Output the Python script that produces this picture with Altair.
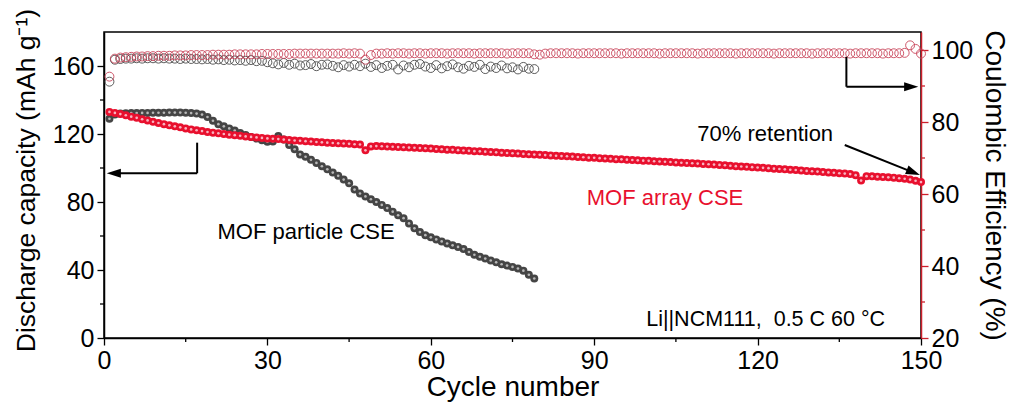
import altair as alt
import pandas as pd

# ---------------- data ----------------
array_capacity = [
    133.0, 132.4, 131.7, 131.0, 130.2, 129.5, 128.7, 128.0, 127.2, 126.5,
    125.8, 125.1, 124.5, 123.9, 123.3, 122.7, 122.2, 121.7, 121.2, 120.8,
    120.4, 120.0, 119.6, 119.3, 119.0, 118.6, 118.3, 118.0, 117.7, 117.4,
    117.2, 117.0, 116.7, 116.5, 116.2, 116.0, 115.8, 115.6, 115.3, 115.1,
    114.9, 114.7, 114.5, 114.4, 114.2, 114.0, 113.8, 110.4, 112.7, 112.9,
    112.8, 112.6, 112.5, 112.3, 112.2, 112.0, 111.9, 111.7, 111.6, 111.4,
    111.2, 111.0, 110.8, 110.7, 110.5, 110.3, 110.1, 109.9, 109.8, 109.6,
    109.4, 109.2, 109.0, 108.8, 108.7, 108.5, 108.3, 108.1, 107.9, 107.8,
    107.6, 107.4, 107.2, 107.0, 106.9, 106.7, 106.5, 106.3, 106.1, 106.0,
    105.8, 105.6, 105.4, 105.2, 105.1, 104.9, 104.7, 104.5, 104.3, 104.2,
    104.0, 103.8, 103.7, 103.5, 103.3, 103.1, 102.9, 102.8, 102.6, 102.4,
    102.2, 102.0, 101.8, 101.6, 101.3, 101.1, 100.9, 100.7, 100.5, 100.3,
    100.1, 99.9, 99.6, 99.4, 99.2, 99.0, 98.8, 98.5, 98.3, 98.1,
    97.9, 97.6, 97.4, 97.2, 96.9, 96.7, 96.4, 95.8, 92.6, 95.2,
    95.1, 94.9, 94.7, 94.5, 94.3, 94.0, 93.7, 93.2, 92.5, 91.7,
]

particle_capacity = [
    129.0, 131.5, 132.0, 132.2, 132.3, 132.3, 132.4, 132.4, 132.5, 132.5,
    132.5, 132.6, 132.6, 132.6, 132.5, 132.3, 132.0, 131.4, 130.0, 127.8,
    125.8, 124.5, 123.3, 122.0, 120.6, 119.4, 118.3, 117.3, 116.3, 115.5,
    115.6, 118.8, 116.8, 113.5, 111.0, 108.0, 106.6, 104.8, 103.0, 101.0,
    99.2, 97.3, 95.4, 93.2, 91.0, 87.3, 85.0, 83.3, 81.6, 80.0,
    78.3, 76.4, 74.3, 72.2, 70.5, 67.4, 64.5, 62.3, 60.5, 59.2,
    58.0, 56.8, 55.6, 54.5, 53.6, 52.3, 50.6, 49.0, 47.8, 46.7,
    45.6, 44.5, 43.4, 42.6, 41.8, 40.9, 39.6, 37.2, 35.0,
]

array_ce = [
    92.6, 97.6, 97.9, 98.0, 98.1, 98.2, 98.2, 98.3, 98.3, 98.4,
    98.4, 98.4, 98.5, 98.5, 98.5, 98.6, 98.6, 98.6, 98.6, 98.7,
    98.7, 98.7, 98.7, 98.8, 98.8, 98.8, 98.8, 98.8, 98.9, 98.9,
    98.9, 98.9, 98.9, 98.9, 99.0, 99.0, 99.0, 99.0, 99.0, 99.0,
    99.0, 99.0, 99.0, 99.1, 99.0, 99.1, 99.0, 97.3, 98.6, 99.0,
    99.0, 99.1, 99.0, 99.1, 99.1, 99.0, 99.1, 99.1, 99.0, 99.1,
    99.1, 99.1, 99.0, 99.1, 99.1, 99.1, 99.1, 99.0, 99.1, 99.1,
    99.1, 99.1, 99.1, 99.0, 99.1, 99.1, 99.1, 99.1, 98.8, 98.7,
    99.0, 99.1, 99.1, 99.1, 99.1, 99.1, 99.0, 99.1, 99.1, 99.1,
    99.1, 99.1, 99.1, 99.1, 99.0, 99.1, 99.1, 99.1, 99.1, 99.1,
    99.1, 99.0, 99.1, 99.1, 99.1, 99.1, 99.1, 99.1, 99.0, 99.1,
    99.1, 99.1, 99.1, 99.1, 99.1, 99.0, 99.1, 99.1, 99.1, 99.1,
    99.1, 99.1, 99.0, 99.1, 99.1, 99.1, 99.1, 99.1, 99.1, 99.0,
    99.1, 99.1, 99.1, 99.1, 99.1, 99.1, 99.0, 99.1, 99.1, 99.1,
    99.1, 99.1, 99.0, 99.1, 99.1, 99.1, 99.2, 101.3, 100.3, 99.0,
]

particle_ce = [
    91.2, 97.3, 97.5, 97.6, 97.6, 97.7, 97.6, 97.7, 97.7, 97.6,
    97.7, 97.6, 97.6, 97.5, 97.6, 97.5, 97.5, 97.4, 97.5, 97.3,
    97.4, 97.2, 97.3, 97.1, 97.2, 97.0, 97.2, 96.9, 97.0, 96.6,
    96.3, 96.0, 96.4, 95.9, 96.2, 95.7, 95.8, 96.1, 95.5, 95.9,
    96.0, 95.6, 95.2, 95.8, 95.4, 95.9, 95.5, 96.2, 95.3, 95.8,
    95.0, 95.6, 95.9, 94.6, 95.7, 95.2, 95.9, 96.1, 95.4, 95.0,
    95.8, 94.9, 95.5, 96.0, 95.2, 94.8, 95.6, 95.3, 95.9, 94.7,
    95.4, 95.0, 95.7, 94.9, 95.2, 94.6, 95.3, 94.8, 94.7,
]

x_major = [0, 30, 60, 90, 120, 150]
x_minor = [15, 45, 75, 105, 135]
cap_major = [0, 40, 80, 120, 160]
cap_minor = [20, 60, 100, 140]
ce_major = [20, 40, 60, 80, 100]
ce_minor = [30, 50, 70, 90]

# annotation texts (data coordinates: cycle, capacity)
label_text = ["MOF particle CSE", "MOF array CSE", "70% retention"]
label_x = [37.1, 103.0, 121.4]
label_y = [62.5, 82.3, 120.0]
label_color = ["#000000", "#e8102e", "#000000"]

cond_text = ["Li||NCM111,\u00a0\u00a00.5 C 60 °C"]
cond_x = [143.4]
cond_y = [10.5]

# arrow segments (cycle, capacity units)
seg_x = [17.1, 17.1, 136.3, 136.3, 136.0]
seg_x2 = [17.1, 2.5, 136.3, 147.5, 148.1]
seg_y = [114.9, 96.9, 165.4, 147.8, 113.5]
seg_y2 = [96.9, 96.9, 147.8, 147.8, 98.0]
head_x = [0.5, 149.5, 149.8]
head_y = [96.9, 147.8, 95.9]
head_angle = [180, 0, 22]

FONT = "Liberation Sans"
RED = "#e8102e"
AXRED = "#cc1f2a"
GREY = "#454545"
W, H = 817, 306

part_cap = pd.DataFrame({"cycle": range(1, len(particle_capacity) + 1), "cap": particle_capacity})
arr_cap = pd.DataFrame({"cycle": range(1, len(array_capacity) + 1), "cap": array_capacity})
part_ce = pd.DataFrame({"cycle": range(1, len(particle_ce) + 1), "ce": particle_ce})
arr_ce = pd.DataFrame({"cycle": range(1, len(array_ce) + 1), "ce": array_ce})

xscale = alt.Scale(domain=[0, 150], nice=False, zero=False)
capscale = alt.Scale(domain=[0, 180], nice=False, zero=False)
cescale = alt.Scale(domain=[20, 105], nice=False, zero=False)

common = dict(labelFontSize=25, labelFont=FONT, titleFont=FONT,
              titleFontWeight="normal", labelColor="black", titleColor="black",
              domainWidth=1.5, tickWidth=1.3, tickSize=7, grid=False,
              labelPadding=3, labelFlush=False)

x_axis = alt.Axis(values=x_major, title="Cycle number", domainColor="black",
                  tickColor="black", titlePadding=0, titleFontSize=28,
                  orient="bottom", **common)
cap_axis = alt.Axis(values=cap_major, title="Discharge capacity (mAh g⁻¹)", orient="left",
                    domainColor="black", tickColor="black", titlePadding=12,
                    titleFontSize=26.5, titleY=148, **common)
ce_axis = alt.Axis(values=ce_major, title="Coulombic Efficiency (%)", orient="right",
                   domainColor=AXRED, tickColor=AXRED, titlePadding=7,
                   titleFontSize=28, **common)

X = alt.X("cycle:Q", scale=xscale, axis=x_axis)
Xn = alt.X("cycle:Q", scale=xscale, axis=None)

part_outer = alt.Chart(part_cap).mark_circle(size=64, color=GREY, opacity=1).encode(
    x=X, y=alt.Y("cap:Q", scale=capscale, axis=cap_axis))
part_inner = alt.Chart(part_cap).mark_circle(size=7, color="#b8b8b8", opacity=1).encode(
    x=Xn, y=alt.Y("cap:Q", scale=capscale, axis=None))
arr_outer = alt.Chart(arr_cap).mark_circle(size=64, color=RED, opacity=1).encode(
    x=Xn, y=alt.Y("cap:Q", scale=capscale, axis=None))
arr_inner = alt.Chart(arr_cap).mark_circle(size=7, color="#f7b3c0", opacity=1).encode(
    x=Xn, y=alt.Y("cap:Q", scale=capscale, axis=None))

lab_df = pd.DataFrame({"t": label_text, "x": label_x, "y": label_y, "c": label_color})
labels = alt.Chart(lab_df).mark_text(font=FONT, fontSize=22, align="center",
                                     baseline="middle").encode(
    x=alt.X("x:Q", scale=xscale, axis=None),
    y=alt.Y("y:Q", scale=capscale, axis=None),
    text="t:N", color=alt.Color("c:N", scale=None))

cond_df = pd.DataFrame({"t": cond_text, "x": cond_x, "y": cond_y})
cond = alt.Chart(cond_df).mark_text(font=FONT, fontSize=21.5, align="right",
                                    baseline="middle", color="black").encode(
    x=alt.X("x:Q", scale=xscale, axis=None),
    y=alt.Y("y:Q", scale=capscale, axis=None),
    text="t:N")

seg_df = pd.DataFrame({"x": seg_x, "x2": seg_x2, "y": seg_y, "y2": seg_y2})
segs = alt.Chart(seg_df).mark_rule(color="black", strokeWidth=2).encode(
    x=alt.X("x:Q", scale=xscale, axis=None), x2="x2:Q",
    y=alt.Y("y:Q", scale=capscale, axis=None), y2="y2:Q")

head_df = pd.DataFrame({"x": head_x, "y": head_y, "a": head_angle})
heads = alt.Chart(head_df).mark_point(
    shape="M0,0L-2,-0.65L-2,0.65Z", filled=True, size=200, color="black",
    opacity=1, strokeWidth=0).encode(
    x=alt.X("x:Q", scale=xscale, axis=None),
    y=alt.Y("y:Q", scale=capscale, axis=None),
    angle=alt.Angle("a:Q", scale=None))

# minor ticks (positions through the scales, lengths in pixels outside the plot)
xmin_df = pd.DataFrame({"v": x_minor})
xminor = alt.Chart(xmin_df).mark_rule(color="black", strokeWidth=1.3).encode(
    x=alt.X("v:Q", scale=xscale, axis=None), y=alt.value(H), y2=alt.value(H + 4))
capmin_df = pd.DataFrame({"v": cap_minor})
capminor = alt.Chart(capmin_df).mark_rule(color="black", strokeWidth=1.3).encode(
    y=alt.Y("v:Q", scale=capscale, axis=None), x=alt.value(-4), x2=alt.value(0))

part_ce_m = alt.Chart(part_ce).mark_point(shape="circle", filled=False, size=80,
                                          color="#4a4a4a", strokeWidth=0.9, opacity=1).encode(
    x=Xn, y=alt.Y("ce:Q", scale=cescale, axis=ce_axis))
arr_ce_m = alt.Chart(arr_ce).mark_point(shape="circle", filled=False, size=80,
                                        color="#c8455a", strokeWidth=0.9, opacity=1).encode(
    x=Xn, y=alt.Y("ce:Q", scale=cescale, axis=None))
cemin_df = pd.DataFrame({"v": ce_minor})
ceminor = alt.Chart(cemin_df).mark_rule(color=AXRED, strokeWidth=1.3).encode(
    y=alt.Y("v:Q", scale=cescale, axis=None), x=alt.value(W), x2=alt.value(W + 4))

chart = alt.layer(
    part_ce_m, arr_ce_m,
    part_outer, part_inner, arr_outer, arr_inner,
    labels, cond, segs, heads, xminor, capminor, ceminor,
).resolve_scale(y="independent").resolve_axis(x="independent", y="independent").properties(
    width=W, height=H,
    autosize=alt.AutoSizeParams(type="none"),
    padding={"left": 104, "top": 32, "right": 95, "bottom": 67},
    background="white",
).configure_view(stroke="black", strokeWidth=1.5)

chart.save("out.html", embed_options={"renderer": "svg", "actions": False})
